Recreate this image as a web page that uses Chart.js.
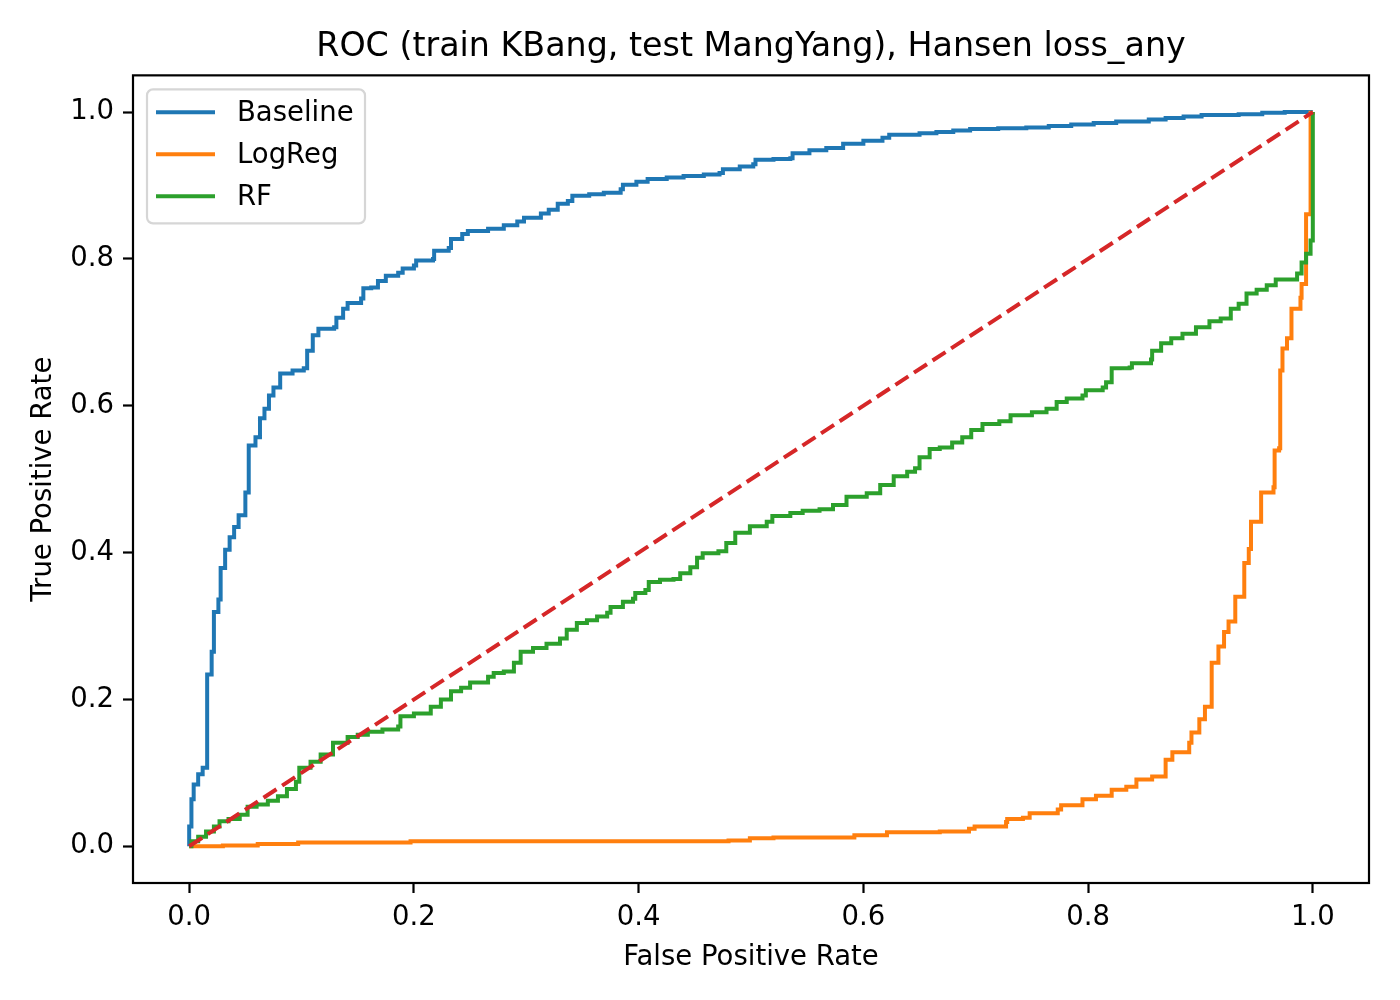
<!DOCTYPE html>
<html lang="en">
<head>
    <meta charset="UTF-8">
    <title>ROC (train KBang, test MangYang), Hansen loss_any</title>
    <script src="https://cdn.jsdelivr.net/npm/chart.js"></script>
    <style>
        html, body { margin: 0; padding: 0; background: #fff; }
        #wrap { width: 1400px; height: 1000px; }
    </style>
</head>
<body>
    <div id="wrap"><canvas id="roc" width="1400" height="1000"></canvas></div>

    <script>
        // ROC points (fpr / tpr pairs)
        const baselineFpr = [0, 0, 0.002, 0.004, 0.008, 0.012, 0.016, 0.020, 0.022, 0.026, 0.028, 0.032, 0.036, 0.040, 0.044, 0.050, 0.053, 0.059, 0.063, 0.067, 0.071, 0.075, 0.081, 0.092, 0.102, 0.105, 0.110, 0.115, 0.129, 0.131, 0.137, 0.141, 0.153, 0.155, 0.162, 0.168, 0.175, 0.186, 0.190, 0.200, 0.202, 0.217, 0.218, 0.231, 0.233, 0.243, 0.248, 0.266, 0.280, 0.292, 0.298, 0.313, 0.320, 0.328, 0.337, 0.341, 0.356, 0.369, 0.384, 0.386, 0.398, 0.408, 0.425, 0.440, 0.458, 0.472, 0.475, 0.490, 0.502, 0.504, 0.520, 0.535, 0.537, 0.552, 0.567, 0.582, 0.600, 0.617, 0.623, 0.650, 0.665, 0.680, 0.695, 0.720, 0.745, 0.765, 0.785, 0.805, 0.825, 0.854, 0.869, 0.885, 0.901, 0.918, 0.934, 0.955, 0.975, 1.0];
        const baselineTpr = [0, 0.027, 0.064, 0.084, 0.098, 0.107, 0.234, 0.265, 0.319, 0.336, 0.379, 0.404, 0.421, 0.435, 0.451, 0.482, 0.546, 0.557, 0.583, 0.596, 0.614, 0.625, 0.644, 0.648, 0.651, 0.675, 0.696, 0.705, 0.707, 0.720, 0.732, 0.740, 0.746, 0.760, 0.761, 0.770, 0.777, 0.781, 0.787, 0.791, 0.798, 0.800, 0.811, 0.815, 0.827, 0.834, 0.838, 0.841, 0.846, 0.851, 0.856, 0.862, 0.867, 0.875, 0.879, 0.886, 0.888, 0.890, 0.895, 0.901, 0.905, 0.909, 0.911, 0.913, 0.915, 0.917, 0.922, 0.926, 0.929, 0.935, 0.936, 0.937, 0.944, 0.948, 0.951, 0.957, 0.961, 0.965, 0.969, 0.971, 0.973, 0.975, 0.977, 0.978, 0.979, 0.981, 0.983, 0.985, 0.987, 0.990, 0.992, 0.994, 0.996, 0.996, 0.997, 0.999, 1.0, 1.0];

        const logregFpr = [0, 0.030, 0.061, 0.097, 0.197, 0.366, 0.480, 0.499, 0.520, 0.581, 0.592, 0.621, 0.668, 0.694, 0.699, 0.727, 0.728, 0.742, 0.748, 0.773, 0.776, 0.795, 0.807, 0.821, 0.834, 0.843, 0.857, 0.869, 0.875, 0.890, 0.892, 0.899, 0.904, 0.910, 0.916, 0.921, 0.925, 0.931, 0.939, 0.943, 0.945, 0.954, 0.965, 0.966, 0.970, 0.971, 0.973, 0.977, 0.981, 0.989, 0.990, 0.994, 0.998, 1.0];
        const logregTpr = [0, 0.001, 0.003, 0.005, 0.007, 0.007, 0.008, 0.011, 0.012, 0.012, 0.015, 0.019, 0.020, 0.024, 0.027, 0.033, 0.037, 0.039, 0.045, 0.050, 0.056, 0.064, 0.069, 0.077, 0.081, 0.091, 0.095, 0.118, 0.128, 0.141, 0.155, 0.173, 0.190, 0.250, 0.272, 0.292, 0.306, 0.340, 0.386, 0.405, 0.442, 0.482, 0.489, 0.539, 0.542, 0.648, 0.678, 0.692, 0.732, 0.747, 0.766, 0.861, 0.999, 1.0];

        const rfFpr = [0, 0.002, 0.008, 0.015, 0.022, 0.027, 0.035, 0.045, 0.052, 0.060, 0.070, 0.079, 0.087, 0.095, 0.098, 0.108, 0.117, 0.128, 0.141, 0.150, 0.159, 0.172, 0.186, 0.188, 0.200, 0.215, 0.224, 0.233, 0.242, 0.250, 0.266, 0.271, 0.280, 0.289, 0.295, 0.306, 0.318, 0.330, 0.336, 0.345, 0.354, 0.363, 0.372, 0.375, 0.386, 0.395, 0.397, 0.406, 0.409, 0.419, 0.431, 0.437, 0.446, 0.452, 0.457, 0.471, 0.478, 0.486, 0.499, 0.514, 0.519, 0.535, 0.546, 0.561, 0.573, 0.585, 0.603, 0.615, 0.627, 0.639, 0.646, 0.650, 0.659, 0.668, 0.679, 0.688, 0.696, 0.706, 0.721, 0.731, 0.750, 0.763, 0.772, 0.781, 0.795, 0.798, 0.813, 0.816, 0.821, 0.837, 0.839, 0.856, 0.857, 0.865, 0.874, 0.884, 0.896, 0.908, 0.918, 0.927, 0.934, 0.941, 0.950, 0.959, 0.967, 0.981, 0.986, 0.990, 0.994, 0.998, 1.0];
        const rfTpr = [0, 0.007, 0.013, 0.020, 0.027, 0.034, 0.037, 0.043, 0.054, 0.057, 0.062, 0.068, 0.078, 0.088, 0.107, 0.115, 0.125, 0.141, 0.149, 0.152, 0.156, 0.159, 0.163, 0.177, 0.181, 0.190, 0.200, 0.211, 0.216, 0.223, 0.231, 0.236, 0.238, 0.250, 0.265, 0.270, 0.276, 0.283, 0.295, 0.304, 0.308, 0.313, 0.318, 0.326, 0.333, 0.337, 0.345, 0.349, 0.360, 0.363, 0.364, 0.372, 0.380, 0.393, 0.399, 0.402, 0.413, 0.427, 0.436, 0.442, 0.450, 0.454, 0.457, 0.459, 0.465, 0.476, 0.481, 0.492, 0.504, 0.510, 0.515, 0.530, 0.541, 0.543, 0.550, 0.557, 0.567, 0.575, 0.579, 0.587, 0.591, 0.596, 0.605, 0.610, 0.614, 0.621, 0.625, 0.632, 0.651, 0.652, 0.658, 0.663, 0.675, 0.685, 0.692, 0.698, 0.707, 0.715, 0.719, 0.732, 0.739, 0.753, 0.758, 0.764, 0.772, 0.772, 0.780, 0.795, 0.807, 0.825, 1.0];

        const chanceFpr = [0, 1];
        const chanceTpr = [0, 1];

        const tickValues = [0, 0.2, 0.4, 0.6, 0.8, 1.0];

        const FONT = "'DejaVu Sans', sans-serif";
        const pts = (xs, ys) => xs.map((x, i) => ({ x: x, y: ys[i] }));

        // matplotlib-style frame + legend box inside the axes
        const mplDecor = {
            id: 'mplDecor',
            afterDatasetsDraw(chart) {
                const { ctx, chartArea: a } = chart;
                ctx.save();

                // legend
                const items = chart.data.datasets.filter(d => !d.hideInLegend);
                const bx = a.left + 14, by = a.top + 14, bw = 218, bh = 134;
                ctx.beginPath();
                ctx.roundRect(bx, by, bw, bh, 6);
                ctx.fillStyle = 'rgba(255,255,255,0.8)';
                ctx.fill();
                ctx.lineWidth = 2.2;
                ctx.strokeStyle = '#d6d6d6';
                ctx.stroke();

                ctx.font = '27.5px ' + FONT;
                ctx.textBaseline = 'middle';
                ctx.textAlign = 'left';
                items.forEach((d, i) => {
                    const y = by + 23 + i * 42;
                    ctx.beginPath();
                    ctx.moveTo(bx + 9, y);
                    ctx.lineTo(bx + 68, y);
                    ctx.lineWidth = 4;
                    ctx.strokeStyle = d.borderColor;
                    ctx.stroke();
                    ctx.fillStyle = '#000';
                    ctx.fillText(d.label, bx + 90, y + 1);
                });

                // axes frame
                ctx.lineWidth = 2.2;
                ctx.strokeStyle = '#000';
                ctx.strokeRect(a.left, a.top, a.right - a.left, a.bottom - a.top);
                ctx.restore();
            }
        };

        const tickFont = { family: FONT, size: 27.5 };

        new Chart(document.getElementById('roc'), {
            type: 'line',
            data: {
                datasets: [
                    { label: 'Baseline', data: pts(baselineFpr, baselineTpr), borderColor: '#1f77b4', stepped: 'before', order: 4 },
                    { label: 'LogReg', data: pts(logregFpr, logregTpr), borderColor: '#ff7f0e', stepped: 'before', order: 3 },
                    { label: 'RF', data: pts(rfFpr, rfTpr), borderColor: '#2ca02c', stepped: 'before', order: 2 },
                    { label: 'chance', hideInLegend: true, data: pts(chanceFpr, chanceTpr), borderColor: '#d62728', borderDash: [15.5, 6.7], order: 1 }
                ]
            },
            options: {
                responsive: false,
                animation: false,
                layout: { padding: { left: 0, right: 31, top: 0, bottom: 0 } },
                elements: {
                    point: { radius: 0 },
                    line: { borderWidth: 4, tension: 0, fill: false }
                },
                scales: {
                    x: {
                        type: 'linear',
                        min: -0.05,
                        max: 1.05,
                        afterBuildTicks: s => { s.ticks = tickValues.map(v => ({ value: v })); },
                        afterFit: s => { s.height = 117; },
                        ticks: { callback: v => v.toFixed(1), font: tickFont, color: '#000', padding: 8, maxRotation: 0 },
                        grid: { drawOnChartArea: false, tickLength: 10, tickWidth: 2.2, tickColor: '#000' },
                        border: { display: false },
                        title: { display: true, text: 'False Positive Rate', font: tickFont, color: '#000', padding: { top: 0, bottom: 26 } }
                    },
                    y: {
                        type: 'linear',
                        min: -0.05,
                        max: 1.05,
                        afterBuildTicks: s => { s.ticks = tickValues.map(v => ({ value: v })); },
                        afterFit: s => { s.width = 133; },
                        ticks: { callback: v => v.toFixed(1), font: tickFont, color: '#000', padding: 9 },
                        grid: { drawOnChartArea: false, tickLength: 10, tickWidth: 2.2, tickColor: '#000' },
                        border: { display: false },
                        title: { display: true, text: 'True Positive Rate', font: tickFont, color: '#000', padding: { top: 27, bottom: 0 } }
                    }
                },
                plugins: {
                    legend: { display: false },
                    tooltip: { enabled: false },
                    title: {
                        display: true,
                        fullSize: false,
                        text: 'ROC (train KBang, test MangYang), Hansen loss_any',
                        font: { family: FONT, size: 33.3, weight: 'normal' },
                        color: '#000',
                        padding: { top: 27, bottom: 8.4 }
                    }
                }
            },
            plugins: [mplDecor]
        });
    </script>
</body>
</html>
